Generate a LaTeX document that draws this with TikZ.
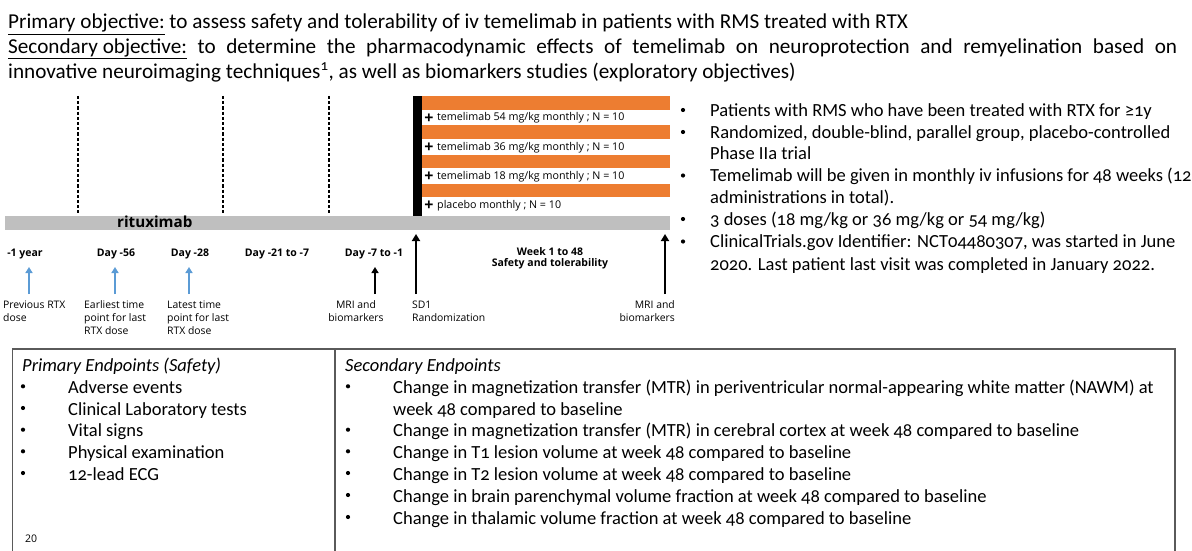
\documentclass[tikz,border=0pt]{standalone}
\usepackage{fontspec}
\setmainfont{Carlito}[Numbers=OldStyle]
\newfontfamily\osans{Open Sans}
\usetikzlibrary{arrows.meta}
\definecolor{armorange}{HTML}{ED7D31}
\definecolor{rtxgray}{HTML}{BFBFBF}
\definecolor{rtxblue}{HTML}{5B9BD5}
\definecolor{framegray}{HTML}{5A5A5A}
\begin{document}
\begin{tikzpicture}[x=1pt,y=-1pt,
  txt/.style={inner sep=0pt, anchor=base west},
  toptxt/.style={txt, font=\fontsize{21.2}{24}\selectfont},
  bodytxt/.style={txt, font=\fontsize{18.5}{22}\selectfont},
  bul/.style={circle, fill=black, inner sep=0pt, minimum size=4.2pt},
  lbl/.style={inner sep=0pt, anchor=base, font=\osans\fontsize{10.4}{12}\selectfont},
  lblw/.style={lbl, anchor=base west},
  lble/.style={lbl, anchor=base east},
  hdr/.style={inner sep=0pt, anchor=base, font=\osans\bfseries\fontsize{10.5}{12}\selectfont},
  armtxt/.style={inner sep=0pt, anchor=base west, font=\osans\fontsize{10.7}{12}\selectfont},
  plus/.style={inner sep=0pt, anchor=base, font=\osans\bfseries\fontsize{16}{16}\selectfont},
  armbar/.style={fill=armorange, draw=none},
  phase/.style={draw=black, line width=1.2pt, dash pattern=on 3.2pt off 2pt},
  bigarrow/.style={draw=black, line width=2.6pt, -{Triangle[width=8pt,length=7pt]}},
  smallarrow/.style={draw=black, line width=2.2pt, -{Triangle[width=7pt,length=6pt]}},
  bluearrow/.style={draw=rtxblue, line width=2.4pt, -{Triangle[width=7pt,length=6pt]}},
  frame/.style={draw=framegray, line width=1.4pt}
]
\useasboundingbox (0,0) rectangle (1192,551);

% ---- objectives
\node[toptxt] (obj1) at (8,29) {\underline{Primary objective:} to assess safety and tolerability of iv temelimab in patients with RMS treated with RTX};
\node[toptxt] (obj2) at (8,53.5) {\makebox[1169pt][s]{\underline{Secondary objective:} to determine the pharmacodynamic effects of temelimab on neuroprotection and remyelination based on}};
\node[toptxt] (obj3) at (8,78) {innovative neuroimaging techniques\textsuperscript{1}, as well as biomarkers studies (exploratory objectives)};

% ---- timeline: period separators
\foreach \xx in {78,223,329} \draw[phase] (\xx,96) -- (\xx,213);

% ---- rituximab background bar
\fill[rtxgray] (5,216) rectangle (670,229.5);
\node[inner sep=0pt, anchor=base west, font=\osans\bfseries\fontsize{15.2}{16}\selectfont] (rtx) at (117,227) {rituximab};

% ---- treatment arms
\foreach \yy in {96,125,154.5,183.5} \fill[armbar] (422,\yy) rectangle (670,\yy+13.8);
\fill[black] (413,96) rectangle (422,216);
\node[plus] (p1) at (429,123) {+};
\node[plus] (p2) at (429,152) {+};
\node[plus] (p3) at (429,181) {+};
\node[plus] (p4) at (429,210.5) {+};
\node[armtxt] (a1) at (437,121) {temelimab 54 mg/kg monthly ; N = 10};
\node[armtxt] (a2) at (437,150) {temelimab 36 mg/kg monthly ; N = 10};
\node[armtxt] (a3) at (437,179) {temelimab 18 mg/kg monthly ; N = 10};
\node[armtxt] (a4) at (437,208.5) {placebo monthly ; N = 10};

% ---- time point headers
\node[hdr] (t1) at (25,256) {-1 year};
\node[hdr] (t2) at (116,256) {Day -56};
\node[hdr] (t3) at (190,256) {Day -28};
\node[hdr] (t4) at (277,256) {Day -21 to -7};
\node[hdr] (t5) at (374,256) {Day -7 to -1};
\node[hdr] (t6) at (550,255) {Week 1 to 48};
\node[hdr] (t7) at (550,266.5) {Safety and tolerability};

% ---- event arrows
\foreach \nm/\xx in {b1/29,b2/115,b3/189,k1/375} {
  \coordinate (\nm tail) at (\xx,294);
  \coordinate (\nm tip) at (\xx,267);
}
\foreach \nm in {b1,b2,b3} \draw[bluearrow] (\nm tail) -- (\nm tip);
\draw[smallarrow] (k1tail) -- (k1tip);
\coordinate (sdtail) at (416,294);
\coordinate (sdtip) at (416,234);
\coordinate (eotail) at (665,294);
\coordinate (eotip) at (665,234);
\draw[bigarrow] (sdtail) -- (sdtip);
\draw[bigarrow] (eotail) -- (eotip);

% ---- event descriptions
\node[lblw] (e1a) at (3,308) {Previous RTX};
\node[lblw] (e1b) at (3,321.3) {dose};
\node[lblw] (e2a) at (84,308) {Earliest time};
\node[lblw] (e2b) at (84,321.3) {point for last};
\node[lblw] (e2c) at (84,334.6) {RTX dose};
\node[lblw] (e3a) at (167,308) {Latest time};
\node[lblw] (e3b) at (167,321.3) {point for last};
\node[lblw] (e3c) at (167,334.6) {RTX dose};
\node[lbl] (e4a) at (356,308) {MRI and};
\node[lbl] (e4b) at (356,321.3) {biomarkers};
\node[lblw] (e5a) at (412,308) {SD1};
\node[lblw] (e5b) at (412,321.3) {Randomization};
\node[lble] (e6a) at (675,308) {MRI and};
\node[lble] (e6b) at (675,321.3) {biomarkers};

% ---- study design bullets
\foreach \yy in {116,138,181.5,225,247.5} \node[bul] at (683,\yy-6) {};
\node[bodytxt] (d1) at (710,116) {Patients with RMS who have been treated with RTX for ≥1y};
\node[bodytxt] (d2) at (710,138) {Randomized, double-blind, parallel group, placebo-controlled};
\node[bodytxt] (d2b) at (710,159.5) {Phase IIa trial};
\node[bodytxt] (d3) at (710,181.5) {Temelimab will be given in monthly iv infusions for 48 weeks (12};
\node[bodytxt] (d3b) at (710,203) {administrations in total).};
\node[bodytxt] (d4) at (710,225) {3 doses (18 mg/kg or 36 mg/kg or 54 mg/kg)};
\node[bodytxt] (d5) at (710,247.5) {ClinicalTrials.gov Identifier: NCT04480307, was started in June};
\node[bodytxt] (d5b) at (710,270) {2020. Last patient last visit was completed in January 2022.};

% ---- endpoints table
\draw[frame] (12.5,552) -- (12.5,349) -- (1175,349) -- (1175,552);
\draw[frame] (335,349) -- (335,552);

\node[bodytxt, font=\fontsize{18.5}{22}\selectfont\itshape] (pe) at (22,371.5) {Primary Endpoints (Safety)};
\foreach \yy in {393.3,415,436.7,458.3,480} \node[bul] at (23,\yy-7) {};
\node[bodytxt] (pe1) at (68,393.3) {Adverse events};
\node[bodytxt] (pe2) at (68,415) {Clinical Laboratory tests};
\node[bodytxt] (pe3) at (68,436.7) {Vital signs};
\node[bodytxt] (pe4) at (68,458.3) {Physical examination};
\node[bodytxt] (pe5) at (68,480) {12-lead ECG};
\node[txt, font=\osans\fontsize{10.5}{12}\selectfont] (pg) at (25,542.5) {20};

\node[bodytxt, font=\fontsize{18.5}{22}\selectfont\itshape] (se) at (345,371.5) {Secondary Endpoints};
\foreach \yy in {393.3,436.7,458.3,480,502,524} \node[bul] at (348,\yy-7) {};
\node[bodytxt] (se1) at (393,393.3) {Change in magnetization transfer (MTR) in periventricular normal-appearing white matter (NAWM) at};
\node[bodytxt] (se1b) at (393,415) {week 48 compared to baseline};
\node[bodytxt] (se2) at (393,436.7) {Change in magnetization transfer (MTR) in cerebral cortex at week 48 compared to baseline};
\node[bodytxt] (se3) at (393,458.3) {Change in T1 lesion volume at week 48 compared to baseline};
\node[bodytxt] (se4) at (393,480) {Change in T2 lesion volume at week 48 compared to baseline};
\node[bodytxt] (se5) at (393,502) {Change in brain parenchymal volume fraction at week 48 compared to baseline};
\node[bodytxt] (se6) at (393,524) {Change in thalamic volume fraction at week 48 compared to baseline};
\end{tikzpicture}
\end{document}
